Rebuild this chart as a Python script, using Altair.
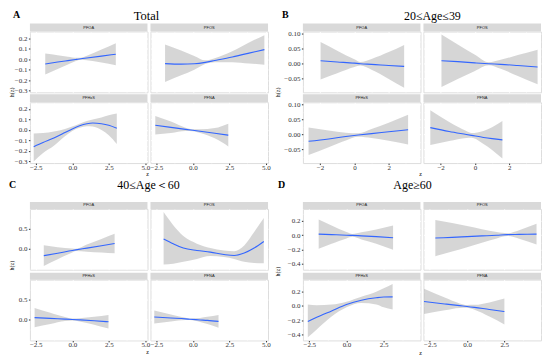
import json
import altair as alt
import pandas as pd

W, H = 118, 61

# ---------------- Group A : Total ----------------
A_PFOA_x = [-1.85, -1.0, -0.3, 0.3, 0.6, 1.0, 2.0, 2.98]
A_PFOA_fit = [-0.045, -0.027, -0.013, -0.001, 0.005, 0.012, 0.030, 0.048]
A_PFOA_lo = [-0.145, -0.093, -0.050, -0.015, -0.005, -0.009, -0.032, -0.057]
A_PFOA_hi = [0.055, 0.039, 0.024, 0.013, 0.015, 0.033, 0.092, 0.153]

A_PFOS_x = [-1.9, -0.8, 0.1, 0.85, 1.5, 2.7, 3.85, 4.9]
A_PFOS_fit = [-0.042, -0.047, -0.043, -0.030, -0.012, 0.022, 0.058, 0.092]
A_PFOS_lo = [-0.218, -0.154, -0.100, -0.045, -0.030, -0.028, -0.040, -0.052]
A_PFOS_hi = [0.140, 0.083, 0.032, -0.010, 0.010, 0.075, 0.160, 0.230]

A_PFHxS_x = [-2.64, -2.0, -1.26, -0.5, 0.0, 0.5, 1.0, 1.4, 2.0, 2.5, 3.05]
A_PFHxS_fit = [-0.16, -0.12, -0.077, -0.025, 0.01, 0.04, 0.06, 0.067, 0.06, 0.045, 0.017]
A_PFHxS_lo = [-0.30, -0.22, -0.15, -0.06, -0.01, 0.02, 0.035, 0.033, 0.0, -0.05, -0.134]
A_PFHxS_hi = [-0.034, -0.03, -0.015, 0.01, 0.033, 0.06, 0.085, 0.10, 0.12, 0.14, 0.156]

A_PFNA_x = [-2.57, -1.5, -0.5, 0.0, 0.5, 1.5, 2.43]
A_PFNA_fit = [0.045, 0.025, 0.006, -0.003, -0.012, -0.031, -0.05]
A_PFNA_lo = [-0.044, -0.03, -0.01, -0.013, -0.03, -0.08, -0.157]
A_PFNA_hi = [0.133, 0.08, 0.022, 0.007, 0.006, 0.018, 0.06]

# ---------------- Group B : 20<=Age<=39 ----------------
B_PFOA_x = [-1.97, -1.0, 0.0, 0.35, 1.0, 2.0, 2.9]
B_PFOA_fit = [0.010, 0.006, 0.002, 0.000, -0.002, -0.006, -0.009]
B_PFOA_lo = [-0.053, -0.032, -0.011, -0.006, -0.020, -0.051, -0.081]
B_PFOA_hi = [0.073, 0.044, 0.015, 0.006, 0.016, 0.039, 0.063]

B_PFOS_x = [-1.95, -1.0, 0.0, 0.8, 1.5, 2.5, 3.65]
B_PFOS_fit = [0.010, 0.007, 0.003, 0.000, -0.002, -0.006, -0.011]
B_PFOS_lo = [-0.078, -0.051, -0.024, -0.005, -0.017, -0.041, -0.069]
B_PFOS_hi = [0.098, 0.065, 0.030, 0.005, 0.013, 0.029, 0.047]

B_PFHxS_x = [-2.67, -1.5, -0.5, 0.23, 1.0, 2.0, 3.13]
B_PFHxS_fit = [-0.023, -0.015, -0.007, -0.002, 0.003, 0.009, 0.016]
B_PFHxS_lo = [-0.069, -0.043, -0.020, -0.008, -0.012, -0.021, -0.034]
B_PFHxS_hi = [0.023, 0.013, 0.006, 0.004, 0.018, 0.039, 0.066]

B_PFNA_x = [-2.6, -1.5, -0.5, -0.2, 0.5, 1.0, 1.6]
B_PFNA_fit = [0.023, 0.010, 0.000, -0.003, -0.010, -0.014, -0.018]
B_PFNA_lo = [-0.035, -0.022, -0.012, -0.011, -0.032, -0.052, -0.081]
B_PFNA_hi = [0.081, 0.042, 0.012, 0.005, 0.012, 0.024, 0.045]

# ---------------- Group C : 40<=Age<60 ----------------
C_PFOA_x = [-1.95, -1.0, 0.0, 0.24, 1.0, 2.0, 2.9]
C_PFOA_fit = [-0.18, -0.12, -0.05, -0.035, 0.01, 0.07, 0.125]
C_PFOA_lo = [-0.44, -0.27, -0.10, -0.065, -0.08, -0.10, -0.12]
C_PFOA_hi = [0.08, 0.03, 0.0, -0.005, 0.10, 0.24, 0.37]

C_PFOS_x = [-2.0, -1.34, -0.65, 0.28, 1.2, 2.13, 2.83, 3.52, 4.2, 4.86]
C_PFOS_fit = [0.24, 0.12, 0.01, -0.05, -0.09, -0.15, -0.175, -0.115, 0.01, 0.175]
C_PFOS_lo = [-0.40, -0.38, -0.33, -0.26, -0.19, -0.215, -0.26, -0.33, -0.36, -0.37]
C_PFOS_hi = [0.91, 0.58, 0.31, 0.12, 0.01, -0.05, -0.07, 0.075, 0.41, 0.76]

C_PFHxS_x = [-2.58, -1.5, -0.5, 0.0, 0.5, 1.5, 2.48]
C_PFHxS_fit = [0.04, 0.02, 0.003, -0.006, -0.016, -0.038, -0.065]
C_PFHxS_lo = [-0.20, -0.12, -0.047, -0.031, -0.056, -0.138, -0.235]
C_PFHxS_hi = [0.28, 0.16, 0.053, 0.019, 0.024, 0.062, 0.105]

C_PFNA_x = [-2.64, -1.5, -0.5, -0.2, 0.5, 1.0, 1.76]
C_PFNA_fit = [0.055, 0.03, 0.008, 0.0, -0.018, -0.03, -0.055]
C_PFNA_lo = [-0.11, -0.06, -0.022, -0.02, -0.068, -0.12, -0.215]
C_PFNA_hi = [0.22, 0.12, 0.038, 0.02, 0.032, 0.06, 0.105]

# ---------------- Group D : Age>=60 ----------------
D_PFOA_x = [-1.87, -1.0, 0.0, 0.4, 1.0, 2.0, 3.13]
D_PFOA_fit = [0.015, 0.008, 0.0, -0.003, -0.009, -0.02, -0.035]
D_PFOA_lo = [-0.19, -0.122, -0.045, -0.023, -0.059, -0.12, -0.205]
D_PFOA_hi = [0.22, 0.138, 0.045, 0.017, 0.041, 0.08, 0.135]

D_PFOS_x = [-2.13, -1.0, 0.0, 1.0, 2.0, 2.7, 3.5, 4.67]
D_PFOS_fit = [-0.04, -0.03, -0.02, -0.01, 0.0, 0.008, 0.011, 0.015]
D_PFOS_lo = [-0.295, -0.23, -0.17, -0.105, -0.045, -0.012, -0.049, -0.13]
D_PFOS_hi = [0.215, 0.17, 0.13, 0.085, 0.045, 0.028, 0.071, 0.16]

D_PFHxS_x = [-2.6, -2.0, -1.0, 0.0, 1.0, 2.0, 2.5, 3.1]
D_PFHxS_fit = [-0.22, -0.16, -0.07, 0.02, 0.08, 0.115, 0.125, 0.127]
D_PFHxS_lo = [-0.44, -0.33, -0.15, -0.02, 0.04, 0.02, -0.02, -0.05]
D_PFHxS_hi = [0.02, 0.01, 0.02, 0.06, 0.13, 0.20, 0.25, 0.31]

D_PFNA_x = [-2.89, -1.5, -0.5, 0.0, 0.5, 1.5, 2.51]
D_PFNA_fit = [0.063, 0.028, 0.004, -0.007, -0.02, -0.05, -0.078]
D_PFNA_lo = [-0.115, -0.062, -0.028, -0.027, -0.055, -0.15, -0.261]
D_PFNA_hi = [0.241, 0.118, 0.036, 0.013, 0.015, 0.05, 0.105]

# ---------------- axis settings per group ----------------
A_xdom, A_ydom = [-2.9, 5.15], [-0.316, 0.264]
A_xmajor, A_xminor = [-2.5, 0, 2.5, 5], [-1.25, 1.25, 3.75]
A_ymajor, A_yminor = [-0.3, -0.2, -0.1, 0, 0.1, 0.2], [-0.25, -0.15, -0.05, 0.05, 0.15, 0.25]

B_xdom, B_ydom = [-3.0, 3.85], [-0.096, 0.108]
B_xmajor, B_xminor = [-2, 0, 2], [-1, 1, 3]
B_ymajor, B_yminor = [-0.05, 0, 0.05, 0.1], [-0.075, -0.025, 0.025, 0.075]

C_xdom, C_ydom = [-2.9, 5.15], [-0.53, 0.99]
C_xmajor, C_xminor = [-2.5, 0, 2.5, 5], [-1.25, 1.25, 3.75]
C_ymajor, C_yminor = [0, 0.5], [-0.5, -0.25, 0.25, 0.75]

D_xdom, D_ydom = [-2.93, 4.97], [-0.485, 0.37]
D_xmajor, D_xminor = [-2.5, 0, 2.5], [-1.25, 1.25, 3.75]
D_ymajor, D_yminor = [-0.4, -0.2, 0, 0.2], [-0.3, -0.1, 0.1, 0.3]

SERIF = "Liberation Serif"


def make_axis(major, minor, fmt, show, pad):
    test = "indexof(%s, datum.value) >= 0" % json.dumps(major)
    return alt.Axis(
        values=sorted(major + minor), title=None, domain=False,
        grid=True, gridColor="white",
        gridWidth={"condition": {"test": test, "value": 1.0}, "value": 0.5},
        labels=show, ticks=show, tickSize=1.5, tickColor="#333333",
        tickOpacity={"condition": {"test": test, "value": 1}, "value": 0},
        labelExpr="%s ? format(datum.value, '%s') : ''" % (test, fmt),
        labelFont=SERIF, labelFontSize=7, labelColor="#333333",
        labelPadding=pad, labelOverlap=False, labelFlush=False,
    )


def txt(s, x, y, size, bold=False, angle=0, align="center", baseline="alphabetic"):
    return alt.Chart(pd.DataFrame({"t": [s]})).mark_text(
        fontSize=size, font=SERIF, fontWeight="bold" if bold else "normal",
        angle=angle, align=align, baseline=baseline, color="black",
    ).encode(x=alt.value(x), y=alt.value(y), text="t:N")


def panel(label, xs, fit, lo, hi, xdom, ydom, xaxis, yaxis, strip, extras=()):
    df = pd.DataFrame({"x": xs, "fit": fit, "lo": lo, "hi": hi})
    xsc = alt.Scale(domain=xdom, nice=False, zero=False)
    ysc = alt.Scale(domain=ydom, nice=False, zero=False)
    band = alt.Chart(df).mark_area(color="#999999", opacity=0.4, interpolate="monotone", clip=True).encode(
        x=alt.X("x:Q", scale=xsc, axis=xaxis),
        y=alt.Y("lo:Q", scale=ysc, axis=yaxis), y2="hi:Q")
    line = alt.Chart(df).mark_line(color="#3366FF", strokeWidth=1.1, interpolate="monotone", clip=True).encode(
        x=alt.X("x:Q", scale=xsc, axis=xaxis),
        y=alt.Y("fit:Q", scale=ysc, axis=yaxis))
    sdf = pd.DataFrame({"s": [label]})
    srect = alt.Chart(sdf).mark_rect(color="#D9D9D9").encode(
        x=alt.value(0), x2=alt.value(W), y=alt.value(-strip), y2=alt.value(0))
    stext = alt.Chart(sdf).mark_text(fontSize=4, color="#1A1A1A", font="Liberation Sans").encode(
        x=alt.value(W / 2), y=alt.value(-strip / 2), text="s:N")
    return alt.layer(band, line, srect, stext, *extras).properties(width=W, height=H)


def spacer(w, h):
    return alt.Chart(pd.DataFrame({"a": [0]})).mark_point(opacity=0).encode(
        x=alt.value(1), y=alt.value(1)).properties(
        width=w, height=h, view=alt.ViewBackground(fillOpacity=0, strokeOpacity=0))


def group(prefix, xdom, ydom, xmaj, xmin, ymaj, ymin, xfmt, yfmt, strip, extras):
    d = globals()
    cells = []
    for i, name in enumerate(["PFOA", "PFOS", "PFHxS", "PFNA"]):
        bottom = i >= 2
        left = i % 2 == 0
        xa = make_axis(xmaj, xmin, xfmt, bottom, -1.5)
        ya = make_axis(ymaj, ymin, yfmt, left, 1.5)
        ex = extras if i == 0 else ()
        cells.append(panel(name, d[f"{prefix}_{name}_x"], d[f"{prefix}_{name}_fit"],
                           d[f"{prefix}_{name}_lo"], d[f"{prefix}_{name}_hi"],
                           xdom, ydom, xa, ya, strip, ex))
    return cells


anchor = alt.Chart(pd.DataFrame({"a": [0]})).mark_rect(opacity=0).encode(
    x=alt.value(-21), x2=alt.value(-20), y=alt.value(-22), y2=alt.value(-21))

A_extra = [anchor, txt("A", -17, -14, 10, bold=True, align="left"), txt("Total", 117, -12, 12.5),
           txt("h(z)", -18, 61, 6, angle=270, baseline="middle"), txt("z", 118, 143, 6, baseline="middle")]
B_extra = [txt("B", -21, -14, 10, bold=True, align="left"), txt("20≤Age≤39", 130, -12, 12),
           txt("h(z)", -25, 61, 6, angle=270, baseline="middle"), txt("z", 118, 143, 6, baseline="middle")]
C_extra = [txt("C", -21, -21, 10, bold=True, align="left"), txt("40≤Age＜60", 119, -20, 12),
           txt("h(z)", -18, 57, 6, angle=270, baseline="middle"), txt("z", 118, 144, 6, baseline="middle")]
D_extra = [txt("D", -25, -21, 10, bold=True, align="left"), txt("Age≥60", 110, -20, 12),
           txt("h(z)", -25, 63, 6, angle=270, baseline="middle"), txt("z", 118, 145, 6, baseline="middle")]

gA = group("A", A_xdom, A_ydom, A_xmajor, A_xminor, A_ymajor, A_yminor, ".1f", ".1f", 8, A_extra)
gB = group("B", B_xdom, B_ydom, B_xmajor, B_xminor, B_ymajor, B_yminor, "d", ".2f", 8, B_extra)
gC = group("C", C_xdom, C_ydom, C_xmajor, C_xminor, C_ymajor, C_yminor, ".1f", ".1f", 7, C_extra)
gD = group("D", D_xdom, D_ydom, D_xmajor, D_xminor, D_ymajor, D_yminor, ".1f", ".1f", 7, D_extra)

GAP_W, GAP_H = 29, 26
cells = [
    gA[0], gA[1], spacer(GAP_W, H), gB[0], gB[1],
    gA[2], gA[3], spacer(GAP_W, H), gB[2], gB[3],
    spacer(W, GAP_H), spacer(W, GAP_H), spacer(GAP_W, GAP_H), spacer(W, GAP_H), spacer(W, GAP_H),
    gC[0], gC[1], spacer(GAP_W, H), gD[0], gD[1],
    gC[2], gC[3], spacer(GAP_W, H), gD[2], gD[3],
]

chart = alt.concat(*cells, columns=5, spacing={"row": 10, "column": 3}, bounds="flush").properties(
    padding=0
).configure_view(fill="#EBEBEB", stroke="#EBEBEB", strokeWidth=0).configure(background="white")

chart.save("out.html", embed_options={"renderer": "svg", "actions": False})
